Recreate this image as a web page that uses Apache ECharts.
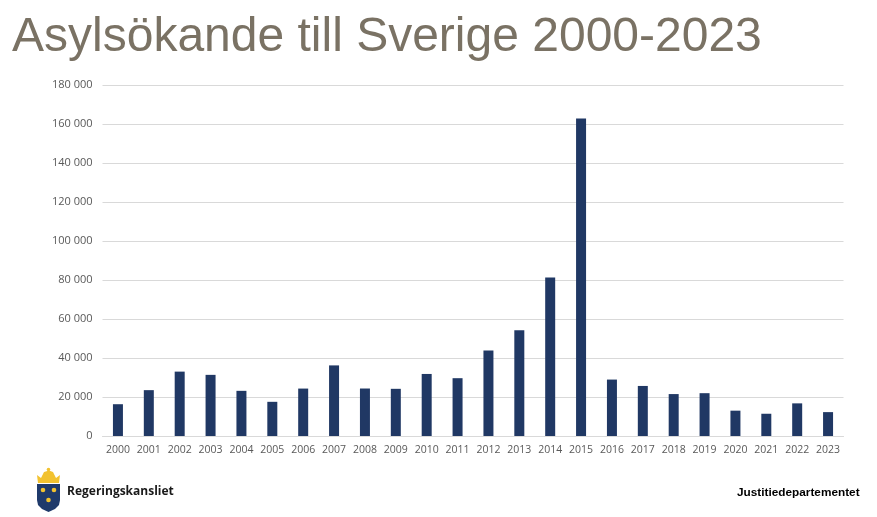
<!DOCTYPE html>
<html>
<head>
<meta charset="utf-8">
<script src="https://cdn.jsdelivr.net/npm/echarts@6/dist/echarts.min.js"></script>
<style>
html,body{margin:0;padding:0;background:#fff;}
#c{width:877px;height:517px;}
</style>
</head>
<body>
<div id="c"></div>
<script>
const years = ['2000','2001','2002','2003','2004','2005','2006','2007','2008','2009','2010','2011','2012','2013','2014','2015','2016','2017','2018','2019','2020','2021','2022','2023'];
const applicants = [16303,23515,33016,31355,23161,17530,24322,36207,24353,24194,31819,29648,43887,54259,81301,162877,28939,25666,21502,21958,12991,11412,16738,12249];
const yTicks = {min:0, max:180000, interval:20000};

const chart = echarts.init(document.getElementById('c'), null, {renderer:'canvas'});
const fmt = v => v === 0 ? '0' : String(v).replace(/\B(?=(\d{3})+(?!\d))/g, ' ');
chart.setOption({
  animation:false,
  backgroundColor:'#ffffff',
  title:{
    text:'Asylsökande till Sverige 2000-2023',
    left:7, top:9,
    textStyle:{fontFamily:'Liberation Sans, Arial, sans-serif', fontSize:48, fontWeight:'normal', color:'#7a7264'}
  },
  grid:{left:102.5, right:33.5, top:85, bottom:81, containLabel:false},
  xAxis:{
    type:'category', data:years,
    axisLine:{lineStyle:{color:'#d9d9d9', width:1}},
    axisTick:{show:false},
    axisLabel:{color:'#595959', fontSize:10.5, fontFamily:'Open Sans, Calibri, sans-serif', margin:9, interval:0}
  },
  yAxis:{
    type:'value', min:yTicks.min, max:yTicks.max, interval:yTicks.interval,
    axisLine:{show:false}, axisTick:{show:false},
    splitLine:{lineStyle:{color:'#d9d9d9', width:1}},
    axisLabel:{color:'#595959', fontSize:11, fontFamily:'Open Sans, Calibri, sans-serif', margin:10, formatter:fmt}
  },
  series:[{
    type:'bar', data:applicants, barWidth:10,
    itemStyle:{color:'#203864'}
  }],
  graphic:[
    {type:'polygon', shape:{points:[[38,483],[37,475],[41,478],[44,472],[49,470.5],[53,472],[56,478],[60,475],[59,483]]}, style:{fill:'#f2c230'}},
    {type:'circle', shape:{cx:48.5, cy:469.5, r:1.8}, style:{fill:'#f2c230'}},
    {type:'polygon', shape:{points:[[37,484],[60,484],[60,500],[59,505],[55,509],[48.5,512],[42,509],[38,505],[37,500]]}, style:{fill:'#1f3a6b'}},
    {type:'circle', shape:{cx:43, cy:490, r:2.3}, style:{fill:'#f2c230'}},
    {type:'circle', shape:{cx:54, cy:490, r:2.3}, style:{fill:'#f2c230'}},
    {type:'circle', shape:{cx:48.5, cy:500, r:2.3}, style:{fill:'#f2c230'}},
    {type:'text', left:67, top:486, style:{text:'Regeringskansliet', fill:'#1a1a1a', font:'bold 12px "Open Sans", "Liberation Sans", sans-serif'}},
    {type:'text', left:737, top:487, style:{text:'Justitiedepartementet', fill:'#000000', font:'bold 11.8px "Liberation Sans", Arial, sans-serif'}}
  ]
});
</script>
</body>
</html>
